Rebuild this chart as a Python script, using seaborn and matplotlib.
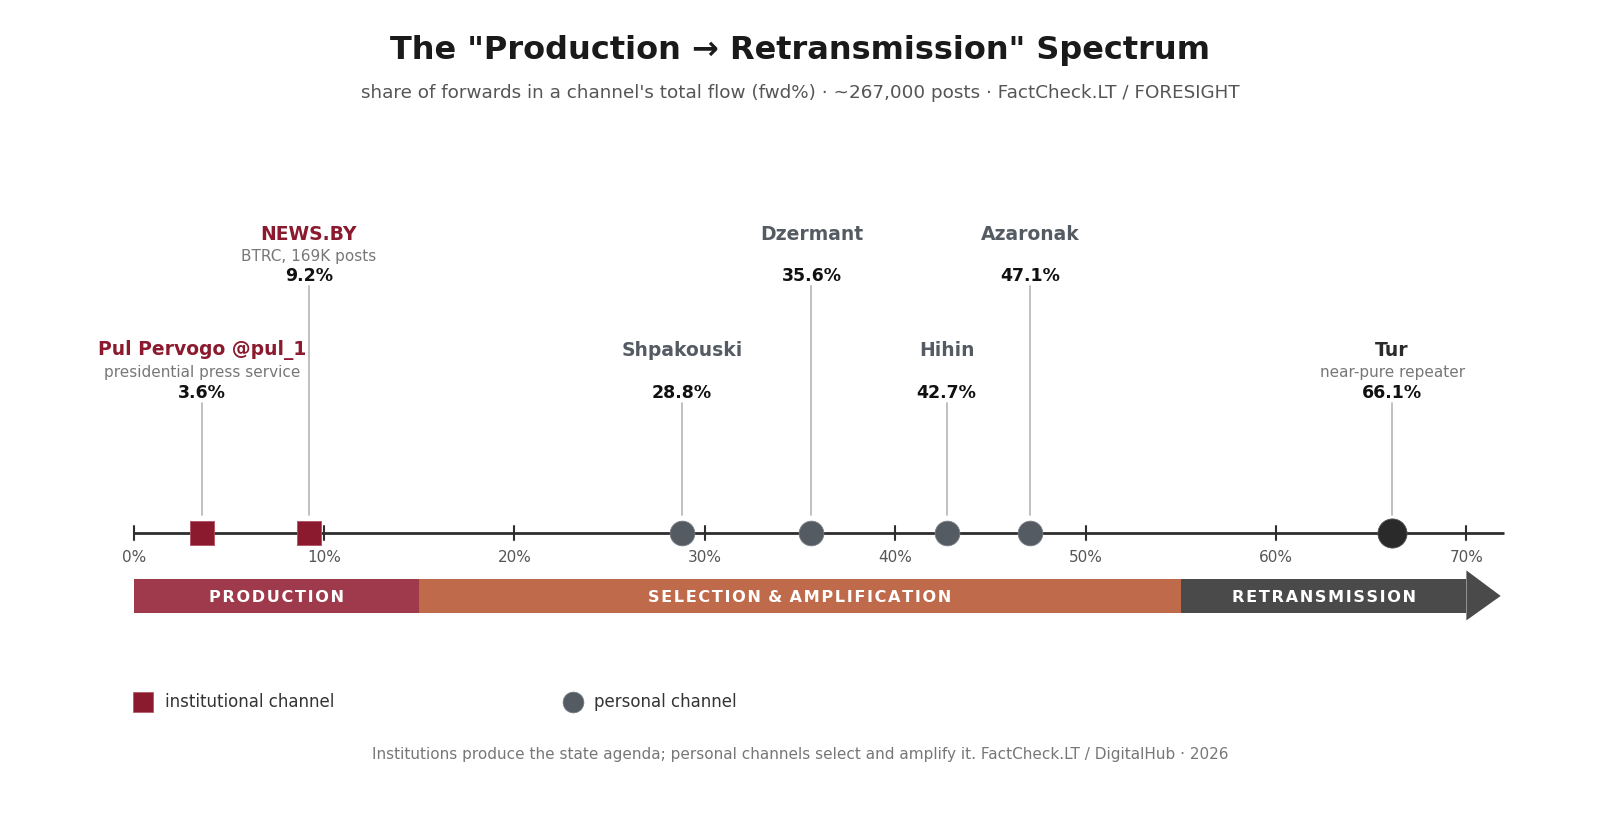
import matplotlib
matplotlib.use("Agg")
import matplotlib.pyplot as plt
from matplotlib.patches import Polygon
import seaborn as sns
import pandas as pd

# ---- data ----
names = ["Pul Pervogo @pul_1", "NEWS.BY", "Shpakouski", "Dzermant", "Hihin", "Azaronak", "Tur"]
subtitles = ["presidential press service", "BTRC, 169K posts", "", "", "", "", "near-pure repeater"]
fwd_pct = [3.6, 9.2, 28.8, 35.6, 42.7, 47.1, 66.1]
kinds = ["institutional", "institutional", "personal", "personal", "personal", "personal", "repeater"]
label_tier = ["low", "high", "low", "high", "low", "high", "low"]

tick_values = [0, 10, 20, 30, 40, 50, 60, 70]
tick_labels = ["0%", "10%", "20%", "30%", "40%", "50%", "60%", "70%"]

band_names = ["PRODUCTION", "SELECTION & AMPLIFICATION", "RETRANSMISSION"]
band_start = [0, 15, 55]
band_end = [15, 55, 70]

legend_labels = ["institutional channel", "personal channel"]

# ---- styles ----
C_INST = "#8b1a2e"
C_PERS = "#555b63"
C_TUR = "#2a2a2a"
band_colors = ["#9e3a4c", "#c06a4c", "#4a4a4a"]
name_colors = {"institutional": C_INST, "personal": C_PERS, "repeater": C_TUR}

W, H = 1600, 827
sns.set_style("white")
plt.rcParams['font.family'] = ['DejaVu Sans']
fig = plt.figure(figsize=(16, 8.27), dpi=100)
ax = fig.add_axes([0, 0, 1, 1])

# x: percent -> pixels (0% at 133.7px, 70% at 1466.4px)
px0, px70 = 133.7, 1466.4
ppp = (px70 - px0) / 70.0
ax.set_xlim(-px0 / ppp, (W - px0) / ppp)
ax.set_ylim(H, 0)
ax.axis("off")

AXIS_Y = 532.7

# axis line
ax.plot([0, 72.0], [AXIS_Y, AXIS_Y], color="#2e2e2e", lw=2.0, zorder=2, solid_capstyle="butt")
for tv, tl in zip(tick_values, tick_labels):
    ax.plot([tv, tv], [AXIS_Y - 7, AXIS_Y + 7], color="#2e2e2e", lw=1.5, zorder=2)
    ax.text(tv, 557, tl, ha="center", va="center", fontsize=11, color="#555555")

# stems and labels
tier_y = {
    "high": dict(name=234, sub=256, val=276, stem_top=286),
    "low": dict(name=350, sub=373, val=393.5, stem_top=403),
}
for n, s, v, k, t in zip(names, subtitles, fwd_pct, kinds, label_tier):
    ty = tier_y[t]
    ax.plot([v, v], [ty["stem_top"], 515], color="#bbbbbb", lw=1.3, zorder=1)
    ax.text(v, ty["name"], n, ha="center", va="center", fontsize=13.5, fontweight="bold",
            color=name_colors[k])
    if s:
        ax.text(v, ty["sub"], s, ha="center", va="center", fontsize=11, color="#777777")
    ax.text(v, ty["val"], f"{v:.1f}%", ha="center", va="center", fontsize=12.5,
            fontweight="bold", color="#111111")

# markers via seaborn
df = pd.DataFrame({"x": fwd_pct, "y": [AXIS_Y] * len(fwd_pct), "kind": kinds})
sns.scatterplot(data=df[df.kind == "institutional"], x="x", y="y", marker="s", s=17.0 ** 2,
                color=C_INST, edgecolor="#b05060", linewidth=0.6, ax=ax, zorder=4, legend=False)
sns.scatterplot(data=df[df.kind == "personal"], x="x", y="y", marker="o", s=17.8 ** 2,
                color=C_PERS, edgecolor="#7a7f86", linewidth=0.6, ax=ax, zorder=4, legend=False)
sns.scatterplot(data=df[df.kind == "repeater"], x="x", y="y", marker="o", s=21.0 ** 2,
                color=C_TUR, edgecolor="#555555", linewidth=0.6, ax=ax, zorder=4, legend=False)
ax.set_xlabel("")
ax.set_ylabel("")

# bands
BAND_TOP, BAND_BOT = 578.6, 613.3
HS = "\u200a"
for bn, b0, b1, bc in zip(band_names, band_start, band_end, band_colors):
    ax.barh(y=(BAND_TOP + BAND_BOT) / 2, width=b1 - b0, left=b0, height=BAND_BOT - BAND_TOP,
            color=bc, edgecolor="none", zorder=2)
    spaced = HS.join(list(bn)).replace(HS + " " + HS, " " + HS)
    ax.text((b0 + b1) / 2, 597, spaced, ha="center", va="center", fontsize=11.6,
            fontweight="bold", color="white", zorder=3)
# arrowhead
ax.add_patch(Polygon([[band_end[-1], 570.4], [71.8, (BAND_TOP + BAND_BOT) / 2], [band_end[-1], 620.4]],
                     closed=True, facecolor=band_colors[-1], edgecolor="none", zorder=2))

# legend
LEG_Y = 702
ax.scatter([0.48], [LEG_Y], marker="s", s=14 ** 2, color=C_INST, edgecolor="#b05060", lw=0.5)
ax.text(1.66, LEG_Y, legend_labels[0], ha="left", va="center", fontsize=12, color="#333333")
ax.scatter([23.1], [LEG_Y], marker="o", s=15 ** 2, color=C_PERS, edgecolor="#7a7f86", lw=0.5)
ax.text(24.2, LEG_Y, legend_labels[1], ha="left", va="center", fontsize=12, color="#333333")

# title etc.
fig.text(0.5, 1 - 51 / H, 'The "Production \u2192 Retransmission" Spectrum', ha="center", va="center",
         fontsize=23, fontweight="bold", color="#1a1a1a")
fig.text(0.5, 1 - 93 / H, "share of forwards in a channel's total flow (fwd%) \u00b7 ~267,000 posts \u00b7 FactCheck.LT / FORESIGHT",
         ha="center", va="center", fontsize=13.2, color="#555555")
fig.text(0.5, 1 - 755 / H, "Institutions produce the state agenda; personal channels select and amplify it. FactCheck.LT / DigitalHub \u00b7 2026",
         ha="center", va="center", fontsize=11, color="#777777")

fig.savefig("out.png", dpi=100, facecolor="white")
